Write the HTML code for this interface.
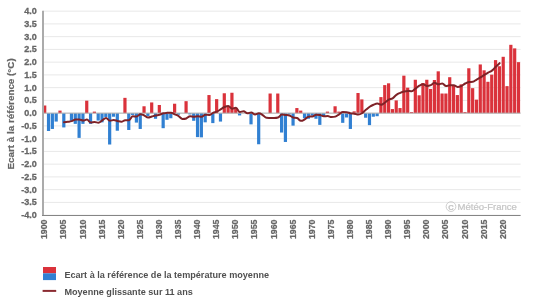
<!DOCTYPE html>
<html><head><meta charset="utf-8"><style>
html,body{margin:0;padding:0;background:#fff;width:537px;height:305px;overflow:hidden}
svg{display:block;will-change:transform}
text{font-family:"Liberation Sans",sans-serif}
.yl{font-size:9px;font-weight:bold;fill:#666;stroke:#666;stroke-width:0.3px;text-anchor:end}
.xl{font-size:8.8px;font-weight:bold;fill:#666;stroke:#666;stroke-width:0.25px;text-anchor:end}
.yt{font-size:9.85px;font-weight:bold;fill:#666;stroke:#666;stroke-width:0.2px;text-anchor:middle}
.lg{font-size:9.1px;font-weight:bold;fill:#505050}
.wm{font-size:9.55px;fill:#c4c4c4;stroke:#c4c4c4;stroke-width:0.2px}
</style></head><body>
<svg width="537" height="305" viewBox="0 0 537 305">
<line x1="43.0" x2="520.6" y1="11.15" y2="11.15" stroke="#e8e8e8" stroke-width="1"/>
<line x1="43.0" x2="520.6" y1="23.90" y2="23.90" stroke="#e8e8e8" stroke-width="1"/>
<line x1="43.0" x2="520.6" y1="36.65" y2="36.65" stroke="#e8e8e8" stroke-width="1"/>
<line x1="43.0" x2="520.6" y1="49.40" y2="49.40" stroke="#e8e8e8" stroke-width="1"/>
<line x1="43.0" x2="520.6" y1="62.15" y2="62.15" stroke="#e8e8e8" stroke-width="1"/>
<line x1="43.0" x2="520.6" y1="74.90" y2="74.90" stroke="#e8e8e8" stroke-width="1"/>
<line x1="43.0" x2="520.6" y1="87.65" y2="87.65" stroke="#e8e8e8" stroke-width="1"/>
<line x1="43.0" x2="520.6" y1="100.40" y2="100.40" stroke="#e8e8e8" stroke-width="1"/>
<line x1="43.0" x2="520.6" y1="113.15" y2="113.15" stroke="#e8e8e8" stroke-width="1"/>
<line x1="43.0" x2="520.6" y1="125.90" y2="125.90" stroke="#e8e8e8" stroke-width="1"/>
<line x1="43.0" x2="520.6" y1="138.65" y2="138.65" stroke="#e8e8e8" stroke-width="1"/>
<line x1="43.0" x2="520.6" y1="151.40" y2="151.40" stroke="#e8e8e8" stroke-width="1"/>
<line x1="43.0" x2="520.6" y1="164.15" y2="164.15" stroke="#e8e8e8" stroke-width="1"/>
<line x1="43.0" x2="520.6" y1="176.90" y2="176.90" stroke="#e8e8e8" stroke-width="1"/>
<line x1="43.0" x2="520.6" y1="189.65" y2="189.65" stroke="#e8e8e8" stroke-width="1"/>
<line x1="43.0" x2="520.6" y1="202.40" y2="202.40" stroke="#e8e8e8" stroke-width="1"/>
<line x1="43.0" x2="520.6" y1="215.15" y2="215.15" stroke="#e8e8e8" stroke-width="1"/>
<text x="36.8" y="14.15" class="yl">4.0</text>
<text x="36.8" y="26.90" class="yl">3.5</text>
<text x="36.8" y="39.65" class="yl">3.0</text>
<text x="36.8" y="52.40" class="yl">2.5</text>
<text x="36.8" y="65.15" class="yl">2.0</text>
<text x="36.8" y="77.90" class="yl">1.5</text>
<text x="36.8" y="90.65" class="yl">1.0</text>
<text x="36.8" y="103.40" class="yl">0.5</text>
<text x="36.8" y="116.15" class="yl">0.0</text>
<text x="36.8" y="128.90" class="yl">-0.5</text>
<text x="36.8" y="141.65" class="yl">-1.0</text>
<text x="36.8" y="154.40" class="yl">-1.5</text>
<text x="36.8" y="167.15" class="yl">-2.0</text>
<text x="36.8" y="179.90" class="yl">-2.5</text>
<text x="36.8" y="192.65" class="yl">-3.0</text>
<text x="36.8" y="205.40" class="yl">-3.5</text>
<text x="36.8" y="218.15" class="yl">-4.0</text>
<rect x="43.11" y="105.50" width="3.2" height="7.65" fill="#da323b"/>
<rect x="46.93" y="113.15" width="3.2" height="17.85" fill="#3180d2"/>
<rect x="50.75" y="113.15" width="3.2" height="15.81" fill="#3180d2"/>
<rect x="54.57" y="113.15" width="3.2" height="8.42" fill="#3180d2"/>
<rect x="58.39" y="110.60" width="3.2" height="2.55" fill="#da323b"/>
<rect x="62.21" y="113.15" width="3.2" height="14.28" fill="#3180d2"/>
<rect x="69.86" y="113.15" width="3.2" height="7.65" fill="#3180d2"/>
<rect x="73.68" y="113.15" width="3.2" height="10.71" fill="#3180d2"/>
<rect x="77.50" y="113.15" width="3.2" height="24.73" fill="#3180d2"/>
<rect x="81.32" y="113.15" width="3.2" height="10.71" fill="#3180d2"/>
<rect x="85.14" y="100.66" width="3.2" height="12.49" fill="#da323b"/>
<rect x="88.96" y="113.15" width="3.2" height="10.71" fill="#3180d2"/>
<rect x="92.78" y="111.62" width="3.2" height="1.53" fill="#da323b"/>
<rect x="96.60" y="113.15" width="3.2" height="7.39" fill="#3180d2"/>
<rect x="100.42" y="113.15" width="3.2" height="9.18" fill="#3180d2"/>
<rect x="104.24" y="113.15" width="3.2" height="3.82" fill="#3180d2"/>
<rect x="108.06" y="113.15" width="3.2" height="31.36" fill="#3180d2"/>
<rect x="111.88" y="113.15" width="3.2" height="3.57" fill="#3180d2"/>
<rect x="115.71" y="113.15" width="3.2" height="17.59" fill="#3180d2"/>
<rect x="123.35" y="97.85" width="3.2" height="15.30" fill="#da323b"/>
<rect x="127.17" y="113.15" width="3.2" height="16.83" fill="#3180d2"/>
<rect x="130.99" y="113.15" width="3.2" height="1.79" fill="#3180d2"/>
<rect x="134.81" y="113.15" width="3.2" height="9.44" fill="#3180d2"/>
<rect x="138.63" y="113.15" width="3.2" height="15.81" fill="#3180d2"/>
<rect x="142.45" y="106.27" width="3.2" height="6.89" fill="#da323b"/>
<rect x="146.27" y="113.15" width="3.2" height="2.81" fill="#3180d2"/>
<rect x="150.09" y="102.44" width="3.2" height="10.71" fill="#da323b"/>
<rect x="153.91" y="113.15" width="3.2" height="5.61" fill="#3180d2"/>
<rect x="157.73" y="104.99" width="3.2" height="8.16" fill="#da323b"/>
<rect x="161.56" y="113.15" width="3.2" height="15.04" fill="#3180d2"/>
<rect x="165.38" y="113.15" width="3.2" height="6.63" fill="#3180d2"/>
<rect x="169.20" y="113.15" width="3.2" height="5.10" fill="#3180d2"/>
<rect x="173.02" y="103.72" width="3.2" height="9.44" fill="#da323b"/>
<rect x="176.84" y="113.15" width="3.2" height="1.53" fill="#3180d2"/>
<rect x="184.48" y="101.17" width="3.2" height="11.98" fill="#da323b"/>
<rect x="188.30" y="113.15" width="3.2" height="1.28" fill="#3180d2"/>
<rect x="192.12" y="113.15" width="3.2" height="7.65" fill="#3180d2"/>
<rect x="195.94" y="113.15" width="3.2" height="23.97" fill="#3180d2"/>
<rect x="199.76" y="113.15" width="3.2" height="24.22" fill="#3180d2"/>
<rect x="203.58" y="113.15" width="3.2" height="9.18" fill="#3180d2"/>
<rect x="207.40" y="95.05" width="3.2" height="18.11" fill="#da323b"/>
<rect x="211.23" y="113.15" width="3.2" height="9.95" fill="#3180d2"/>
<rect x="215.05" y="99.12" width="3.2" height="14.03" fill="#da323b"/>
<rect x="218.87" y="113.15" width="3.2" height="8.42" fill="#3180d2"/>
<rect x="222.69" y="93.26" width="3.2" height="19.89" fill="#da323b"/>
<rect x="226.51" y="106.01" width="3.2" height="7.14" fill="#da323b"/>
<rect x="230.33" y="92.75" width="3.2" height="20.40" fill="#da323b"/>
<rect x="234.15" y="108.31" width="3.2" height="4.84" fill="#da323b"/>
<rect x="237.97" y="113.15" width="3.2" height="2.29" fill="#3180d2"/>
<rect x="249.43" y="113.15" width="3.2" height="11.22" fill="#3180d2"/>
<rect x="257.08" y="113.15" width="3.2" height="31.11" fill="#3180d2"/>
<rect x="268.54" y="93.52" width="3.2" height="19.64" fill="#da323b"/>
<rect x="276.18" y="93.52" width="3.2" height="19.64" fill="#da323b"/>
<rect x="280.00" y="113.15" width="3.2" height="19.38" fill="#3180d2"/>
<rect x="283.82" y="113.15" width="3.2" height="28.81" fill="#3180d2"/>
<rect x="287.64" y="113.15" width="3.2" height="1.28" fill="#3180d2"/>
<rect x="291.46" y="113.15" width="3.2" height="12.49" fill="#3180d2"/>
<rect x="295.28" y="108.05" width="3.2" height="5.10" fill="#da323b"/>
<rect x="299.10" y="110.60" width="3.2" height="2.55" fill="#da323b"/>
<rect x="302.92" y="113.15" width="3.2" height="5.10" fill="#3180d2"/>
<rect x="306.75" y="113.15" width="3.2" height="5.61" fill="#3180d2"/>
<rect x="310.57" y="113.15" width="3.2" height="2.55" fill="#3180d2"/>
<rect x="314.39" y="113.15" width="3.2" height="5.61" fill="#3180d2"/>
<rect x="318.21" y="113.15" width="3.2" height="11.73" fill="#3180d2"/>
<rect x="322.03" y="113.15" width="3.2" height="3.06" fill="#3180d2"/>
<rect x="325.85" y="111.62" width="3.2" height="1.53" fill="#da323b"/>
<rect x="333.49" y="106.27" width="3.2" height="6.89" fill="#da323b"/>
<rect x="337.31" y="111.62" width="3.2" height="1.53" fill="#da323b"/>
<rect x="341.13" y="113.15" width="3.2" height="9.69" fill="#3180d2"/>
<rect x="344.95" y="113.15" width="3.2" height="4.33" fill="#3180d2"/>
<rect x="348.77" y="113.15" width="3.2" height="15.81" fill="#3180d2"/>
<rect x="352.60" y="111.37" width="3.2" height="1.79" fill="#da323b"/>
<rect x="356.42" y="93.01" width="3.2" height="20.14" fill="#da323b"/>
<rect x="360.24" y="99.38" width="3.2" height="13.77" fill="#da323b"/>
<rect x="364.06" y="113.15" width="3.2" height="4.59" fill="#3180d2"/>
<rect x="367.88" y="113.15" width="3.2" height="11.98" fill="#3180d2"/>
<rect x="371.70" y="113.15" width="3.2" height="3.57" fill="#3180d2"/>
<rect x="375.52" y="113.15" width="3.2" height="3.06" fill="#3180d2"/>
<rect x="379.34" y="97.09" width="3.2" height="16.07" fill="#da323b"/>
<rect x="383.16" y="85.10" width="3.2" height="28.05" fill="#da323b"/>
<rect x="386.98" y="83.32" width="3.2" height="29.83" fill="#da323b"/>
<rect x="390.80" y="109.07" width="3.2" height="4.08" fill="#da323b"/>
<rect x="394.62" y="100.40" width="3.2" height="12.75" fill="#da323b"/>
<rect x="398.44" y="108.05" width="3.2" height="5.10" fill="#da323b"/>
<rect x="402.27" y="75.67" width="3.2" height="37.48" fill="#da323b"/>
<rect x="406.09" y="87.65" width="3.2" height="25.50" fill="#da323b"/>
<rect x="409.91" y="112.13" width="3.2" height="1.02" fill="#da323b"/>
<rect x="413.73" y="79.75" width="3.2" height="33.41" fill="#da323b"/>
<rect x="417.55" y="95.30" width="3.2" height="17.85" fill="#da323b"/>
<rect x="421.37" y="83.06" width="3.2" height="30.09" fill="#da323b"/>
<rect x="425.19" y="79.75" width="3.2" height="33.41" fill="#da323b"/>
<rect x="429.01" y="88.93" width="3.2" height="24.22" fill="#da323b"/>
<rect x="432.83" y="80.00" width="3.2" height="33.15" fill="#da323b"/>
<rect x="436.65" y="71.33" width="3.2" height="41.82" fill="#da323b"/>
<rect x="440.47" y="93.52" width="3.2" height="19.64" fill="#da323b"/>
<rect x="444.29" y="93.52" width="3.2" height="19.64" fill="#da323b"/>
<rect x="448.12" y="77.20" width="3.2" height="35.95" fill="#da323b"/>
<rect x="451.94" y="85.10" width="3.2" height="28.05" fill="#da323b"/>
<rect x="455.76" y="95.05" width="3.2" height="18.11" fill="#da323b"/>
<rect x="459.58" y="84.34" width="3.2" height="28.81" fill="#da323b"/>
<rect x="463.40" y="112.13" width="3.2" height="1.02" fill="#da323b"/>
<rect x="467.22" y="68.27" width="3.2" height="44.88" fill="#da323b"/>
<rect x="471.04" y="88.16" width="3.2" height="24.99" fill="#da323b"/>
<rect x="474.86" y="99.64" width="3.2" height="13.52" fill="#da323b"/>
<rect x="478.68" y="64.45" width="3.2" height="48.70" fill="#da323b"/>
<rect x="482.50" y="70.31" width="3.2" height="42.84" fill="#da323b"/>
<rect x="486.32" y="81.79" width="3.2" height="31.36" fill="#da323b"/>
<rect x="490.14" y="74.65" width="3.2" height="38.51" fill="#da323b"/>
<rect x="493.96" y="60.11" width="3.2" height="53.04" fill="#da323b"/>
<rect x="497.79" y="66.23" width="3.2" height="46.92" fill="#da323b"/>
<rect x="501.61" y="56.80" width="3.2" height="56.35" fill="#da323b"/>
<rect x="505.43" y="86.12" width="3.2" height="27.03" fill="#da323b"/>
<rect x="509.25" y="44.81" width="3.2" height="68.34" fill="#da323b"/>
<rect x="513.07" y="48.38" width="3.2" height="64.77" fill="#da323b"/>
<rect x="516.89" y="62.15" width="3.2" height="51.00" fill="#da323b"/>
<line x1="43.0" x2="520.6" y1="113.15" y2="113.15" stroke="#b0b0b0" stroke-width="1"/>
<path d="M 64.01 122.24 C 64.01 122.24 66.31 122.01 67.84 121.80 C 69.36 121.58 70.13 121.59 71.66 121.15 C 73.18 120.70 73.95 119.66 75.48 119.57 C 77.01 119.48 77.77 119.48 79.30 119.48 C 80.83 119.48 81.59 120.55 83.12 120.55 C 84.65 120.55 85.41 119.59 86.94 119.59 C 88.47 119.59 89.23 122.45 90.76 122.45 C 92.29 122.45 93.05 122.08 94.58 122.08 C 96.11 122.08 96.87 122.70 98.40 122.70 C 99.93 122.70 100.69 121.37 102.22 120.45 C 103.75 119.53 104.51 118.09 106.04 118.09 C 107.57 118.09 108.34 120.75 109.86 120.75 C 111.39 120.75 112.16 119.94 113.68 119.94 C 115.21 119.94 115.98 120.59 117.51 120.94 C 119.03 121.29 119.80 121.70 121.33 121.70 C 122.85 121.70 123.62 120.34 125.15 120.24 C 126.68 120.15 127.44 120.24 128.97 120.15 C 130.50 120.06 131.26 116.33 132.79 116.33 C 134.32 116.33 135.08 116.51 136.61 116.51 C 138.14 116.51 138.90 114.17 140.43 114.17 C 141.96 114.17 142.72 114.87 144.25 115.54 C 145.78 116.21 146.54 117.53 148.07 117.53 C 149.60 117.53 150.36 116.88 151.89 116.47 C 153.42 116.05 154.19 115.79 155.71 115.45 C 157.24 115.10 158.01 115.16 159.53 114.73 C 161.06 114.30 161.83 113.67 163.36 113.29 C 164.88 112.91 165.65 112.95 167.18 112.83 C 168.70 112.70 169.47 112.69 171.00 112.69 C 172.53 112.69 173.29 113.69 174.82 114.36 C 176.35 115.02 177.11 115.10 178.64 116.02 C 180.17 116.95 180.93 118.97 182.46 118.97 C 183.99 118.97 184.75 118.97 186.28 118.44 C 187.81 117.90 188.57 116.19 190.10 116.19 C 191.63 116.19 192.39 116.63 193.92 116.63 C 195.45 116.63 196.21 116.21 197.74 116.21 C 199.27 116.21 200.03 116.69 201.56 116.69 C 203.09 116.69 203.86 114.73 205.38 114.73 C 206.91 114.73 207.68 115.02 209.20 115.02 C 210.73 115.02 211.50 113.59 213.03 112.90 C 214.55 112.21 215.32 112.26 216.85 111.56 C 218.37 110.86 219.14 110.31 220.67 109.39 C 222.20 108.48 222.96 107.68 224.49 106.99 C 226.02 106.30 226.78 105.95 228.31 105.95 C 229.84 105.95 230.60 108.67 232.13 108.67 C 233.66 108.67 234.42 107.82 235.95 107.82 C 237.48 107.82 238.24 111.97 239.77 111.97 C 241.30 111.97 242.06 111.25 243.59 111.25 C 245.12 111.25 245.88 113.30 247.41 113.30 C 248.94 113.30 249.71 112.39 251.23 112.39 C 252.76 112.39 253.53 114.48 255.05 114.48 C 256.58 114.48 257.35 113.30 258.88 113.30 C 260.40 113.30 261.17 114.12 262.70 115.02 C 264.22 115.92 264.99 117.69 266.52 117.81 C 268.05 117.93 268.81 117.88 270.34 117.93 C 271.87 117.97 272.63 118.04 274.16 118.04 C 275.69 118.04 276.45 118.04 277.98 117.58 C 279.51 117.11 280.27 114.52 281.80 114.52 C 283.33 114.52 284.09 114.79 285.62 114.98 C 287.15 115.18 287.91 114.99 289.44 115.49 C 290.97 116.00 291.73 117.00 293.26 117.51 C 294.79 118.01 295.55 117.51 297.08 118.02 C 298.61 118.53 299.38 120.87 300.90 120.87 C 302.43 120.87 303.20 120.23 304.72 119.39 C 306.25 118.54 307.02 116.74 308.55 116.63 C 310.07 116.51 310.84 116.63 312.37 116.51 C 313.89 116.40 314.66 114.75 316.19 114.75 C 317.72 114.75 318.48 114.79 320.01 115.07 C 321.54 115.36 322.30 116.19 323.83 116.19 C 325.36 116.19 326.12 116.12 327.65 116.12 C 329.18 116.12 329.94 117.04 331.47 117.04 C 333.00 117.04 333.76 117.04 335.29 116.65 C 336.82 116.26 337.58 115.24 339.11 114.31 C 340.64 113.38 341.40 111.99 342.93 111.99 C 344.46 111.99 345.23 111.99 346.75 112.13 C 348.28 112.27 349.05 113.05 350.57 113.36 C 352.10 113.67 352.87 113.44 354.40 113.68 C 355.92 113.93 356.69 114.59 358.22 114.59 C 359.74 114.59 360.51 114.22 362.04 113.27 C 363.57 112.32 364.33 111.14 365.86 109.84 C 367.39 108.53 368.15 107.74 369.68 106.73 C 371.21 105.71 371.97 105.39 373.50 104.76 C 375.03 104.14 375.79 103.60 377.32 103.60 C 378.85 103.60 379.61 104.81 381.14 104.81 C 382.67 104.81 383.43 103.54 384.96 102.50 C 386.49 101.45 387.25 100.44 388.78 99.60 C 390.31 98.76 391.07 99.27 392.60 98.32 C 394.13 97.37 394.90 95.95 396.42 94.86 C 397.95 93.76 398.72 93.53 400.24 92.86 C 401.77 92.18 402.54 91.87 404.07 91.48 C 405.59 91.09 406.36 90.89 407.89 90.89 C 409.41 90.89 410.18 91.28 411.71 91.28 C 413.24 91.28 414.00 89.62 415.53 88.51 C 417.06 87.40 417.82 86.59 419.35 85.74 C 420.88 84.90 421.64 84.30 423.17 84.30 C 424.70 84.30 425.46 86.02 426.99 86.02 C 428.52 86.02 429.28 85.81 430.81 85.17 C 432.34 84.53 433.10 82.81 434.63 82.81 C 436.16 82.81 436.92 84.30 438.45 84.30 C 439.98 84.30 440.75 83.41 442.27 83.41 C 443.80 83.41 444.57 86.12 446.09 86.12 C 447.62 86.12 448.39 85.16 449.92 85.16 C 451.44 85.16 452.21 85.16 453.74 85.16 C 455.26 85.17 456.03 87.02 457.56 87.02 C 459.09 87.02 459.85 86.70 461.38 86.00 C 462.91 85.29 463.67 84.28 465.20 83.49 C 466.73 82.69 467.49 82.25 469.02 82.02 C 470.55 81.79 471.31 82.02 472.84 81.79 C 474.37 81.56 475.13 80.39 476.66 79.52 C 478.19 78.64 478.95 78.31 480.48 77.40 C 482.01 76.48 482.77 75.91 484.30 74.96 C 485.83 74.01 486.59 73.53 488.12 72.66 C 489.65 71.79 490.42 71.77 491.94 70.59 C 493.47 69.42 494.24 68.26 495.76 66.78 C 497.29 65.29 499.59 63.17 499.59 63.17" fill="none" stroke="#7e2227" stroke-width="2" stroke-linejoin="round" stroke-linecap="round"/>
<line x1="43.0" x2="43.0" y1="10.7" y2="215.15" stroke="#ababab" stroke-width="2"/>
<line x1="42.0" x2="520.6" y1="215.45" y2="215.45" stroke="#858585" stroke-width="1.1"/>
<text transform="translate(47.31,219.5) rotate(-90)" class="xl">1900</text>
<text transform="translate(66.41,219.5) rotate(-90)" class="xl">1905</text>
<text transform="translate(85.52,219.5) rotate(-90)" class="xl">1910</text>
<text transform="translate(104.62,219.5) rotate(-90)" class="xl">1915</text>
<text transform="translate(123.73,219.5) rotate(-90)" class="xl">1920</text>
<text transform="translate(142.83,219.5) rotate(-90)" class="xl">1925</text>
<text transform="translate(161.93,219.5) rotate(-90)" class="xl">1930</text>
<text transform="translate(181.04,219.5) rotate(-90)" class="xl">1935</text>
<text transform="translate(200.14,219.5) rotate(-90)" class="xl">1940</text>
<text transform="translate(219.25,219.5) rotate(-90)" class="xl">1945</text>
<text transform="translate(238.35,219.5) rotate(-90)" class="xl">1950</text>
<text transform="translate(257.45,219.5) rotate(-90)" class="xl">1955</text>
<text transform="translate(276.56,219.5) rotate(-90)" class="xl">1960</text>
<text transform="translate(295.66,219.5) rotate(-90)" class="xl">1965</text>
<text transform="translate(314.77,219.5) rotate(-90)" class="xl">1970</text>
<text transform="translate(333.87,219.5) rotate(-90)" class="xl">1975</text>
<text transform="translate(352.97,219.5) rotate(-90)" class="xl">1980</text>
<text transform="translate(372.08,219.5) rotate(-90)" class="xl">1985</text>
<text transform="translate(391.18,219.5) rotate(-90)" class="xl">1990</text>
<text transform="translate(410.29,219.5) rotate(-90)" class="xl">1995</text>
<text transform="translate(429.39,219.5) rotate(-90)" class="xl">2000</text>
<text transform="translate(448.49,219.5) rotate(-90)" class="xl">2005</text>
<text transform="translate(467.60,219.5) rotate(-90)" class="xl">2010</text>
<text transform="translate(486.70,219.5) rotate(-90)" class="xl">2015</text>
<text transform="translate(505.81,219.5) rotate(-90)" class="xl">2020</text>
<circle cx="451" cy="206.6" r="4.85" fill="none" stroke="#c8c8c8" stroke-width="0.9"/>
<text x="451" y="209.7" class="wm" text-anchor="middle" style="font-size:7.6px;font-weight:bold">C</text>
<text x="457.5" y="210.2" class="wm">Météo-France</text>
<text transform="translate(13.8,113.9) rotate(-90)" class="yt">Ecart à la référence (°C)</text>
<rect x="43" y="267" width="13" height="6.3" fill="#da323b"/>
<rect x="43" y="273.3" width="13" height="6.8" fill="#3180d2"/>
<text x="64.4" y="277.7" class="lg">Ecart à la référence de la température moyenne</text>
<line x1="42.6" x2="56.2" y1="290.9" y2="290.9" stroke="#8b2b31" stroke-width="2"/>
<text x="64.4" y="294.8" class="lg">Moyenne glissante sur 11 ans</text>
</svg></body></html>
